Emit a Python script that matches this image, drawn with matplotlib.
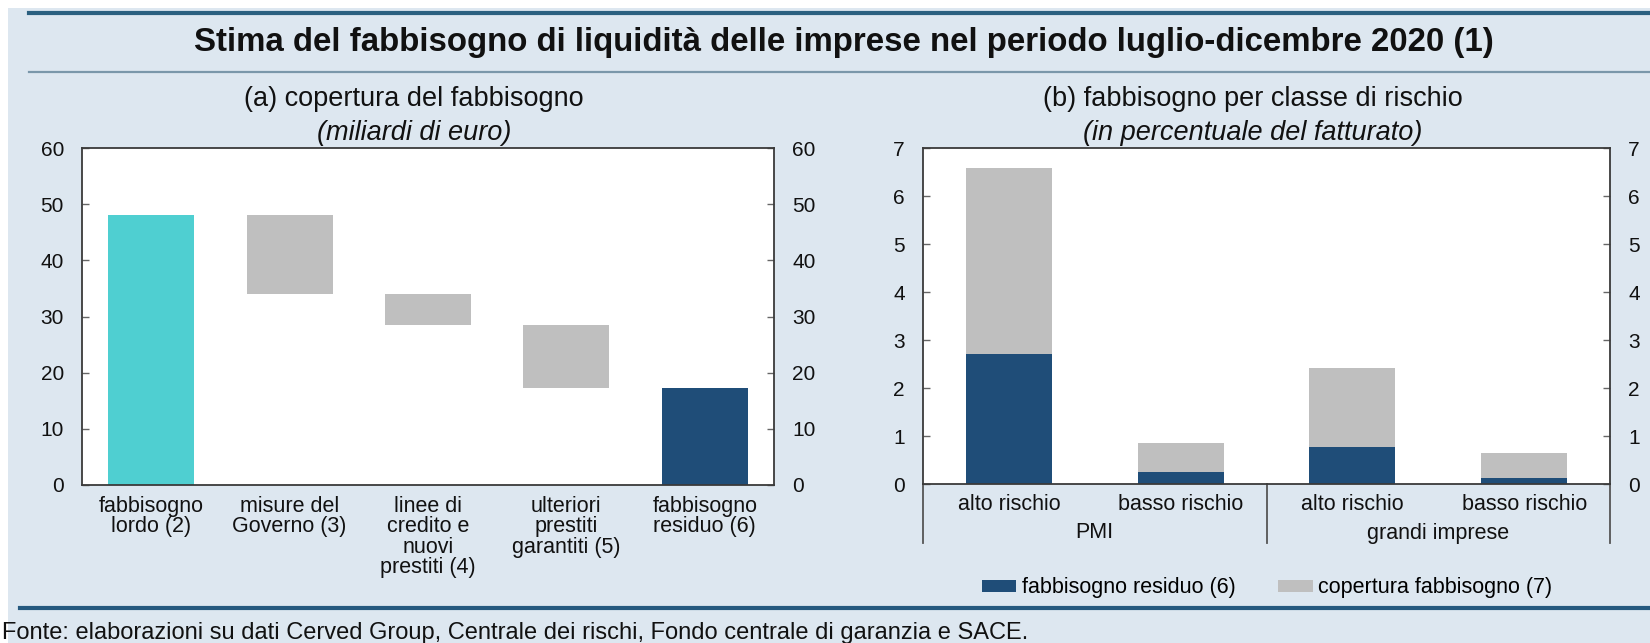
import matplotlib
matplotlib.use("Agg")
import matplotlib.pyplot as plt
from matplotlib.patches import Rectangle, Patch
from matplotlib.lines import Line2D
import matplotlib.transforms as mtransforms
import numpy as np

plt.rcParams['font.family'] = ['Liberation Sans', 'DejaVu Sans']

# ---------------- data ----------------
# panel (a): waterfall, miliardi di euro
cat_a = ["fabbisogno\nlordo (2)", "misure del\nGoverno (3)", "linee di\ncredito e\nnuovi\nprestiti (4)",
         "ulteriori\nprestiti\ngarantiti (5)", "fabbisogno\nresiduo (6)"]
fabbisogno_lordo = 48.0
coperture = [14.0, 5.5, 11.3]          # misure Governo, linee di credito, ulteriori prestiti

# panel (b): percent of turnover
cat_b = ["alto rischio", "basso rischio", "alto rischio", "basso rischio"]
groups_b = ["PMI", "grandi imprese"]
residuo_b = [2.70, 0.25, 0.78, 0.13]
copertura_b = [3.88, 0.61, 1.63, 0.52]

yticks_a = [0, 10, 20, 30, 40, 50, 60]
yticks_b = [0, 1, 2, 3, 4, 5, 6, 7]

title = "Stima del fabbisogno di liquidità delle imprese nel periodo luglio-dicembre 2020 (1)"
sub_a = "(a) copertura del fabbisogno"
sub_a2 = "(miliardi di euro)"
sub_b = "(b) fabbisogno per classe di rischio"
sub_b2 = "(in percentuale del fatturato)"
legend_labels = ["fabbisogno residuo (6)", "copertura fabbisogno (7)"]
source = "Fonte: elaborazioni su dati Cerved Group, Centrale dei rischi, Fondo centrale di garanzia e SACE."

# ---------------- style ----------------
BG = "#dde7f0"
CYAN = "#4fcfd1"
GREY = "#bfbfbf"
DARK = "#1f4d78"
SPINE = "#3a3a3a"
FS = 15.5
FS_SUB = 19.5

W, H = 1650, 643
fig = plt.figure(figsize=(W / 100, H / 100), dpi=100)
fig.patch.set_facecolor("white")

def fx(px):
    return px / W

def fy(py):
    return 1 - py / H

# background panel
fig.add_artist(Rectangle((fx(8), 0), 1 - fx(8), fy(8), transform=fig.transFigure,
                         facecolor=BG, edgecolor="none", zorder=-10))
# decorative lines
fig.add_artist(Line2D([fx(29), 1], [fy(13), fy(13)], transform=fig.transFigure, color="#2b6080", lw=3))
fig.add_artist(Line2D([fx(29), 1], [fy(72), fy(72)], transform=fig.transFigure, color="#7a97aa", lw=1.6))
fig.add_artist(Line2D([fx(20), 1], [fy(608), fy(608)], transform=fig.transFigure, color="#25597f", lw=3))

fig.text(fx(844), fy(42), title, ha="center", va="center", fontsize=23.8, fontweight="bold", color="#111111")

def style_axes(ax):
    ax.set_facecolor("white")
    for s in ax.spines.values():
        s.set_color(SPINE)
        s.set_linewidth(1.3)
    ax.tick_params(axis="y", direction="in", length=5, width=1, color="#666666",
                   labelsize=FS - 0.5, pad=13, left=True, right=True, labelleft=True, labelright=True,
                   labelcolor="#111111")
    ax.tick_params(axis="x", length=0, labelsize=FS, labelcolor="#111111")

# ---------------- panel (a) ----------------
axL = fig.add_axes([fx(82), fy(485), fx(774 - 82), (485 - 148) / H])
style_axes(axL)
xa = np.arange(len(cat_a))
levels = [fabbisogno_lordo]
for c in coperture:
    levels.append(levels[-1] - c)
residuo_a = levels[-1]
heights = [fabbisogno_lordo] + coperture + [residuo_a]
bottoms = [0] + levels[1:] + [0]
colors = [CYAN, GREY, GREY, GREY, DARK]
axL.bar(xa, heights, bottom=bottoms, width=0.62, color=colors, zorder=2)
axL.set_xlim(-0.5, len(cat_a) - 0.5)
axL.set_ylim(0, 60)
axL.set_yticks(yticks_a)
axL.set_xticks(xa)
axL.set_xticklabels(cat_a, linespacing=0.95, va="top")
axL.tick_params(axis="x", pad=8)

trL = mtransforms.blended_transform_factory(axL.transAxes, fig.transFigure)
axL.text(0.48, fy(99), sub_a, transform=trL, ha="center", va="center", fontsize=FS_SUB, color="#111111")
axL.text(0.48, fy(133), sub_a2, transform=trL, ha="center", va="center", fontsize=FS_SUB,
         style="italic", color="#111111")

# ---------------- panel (b) ----------------
axR = fig.add_axes([fx(923), fy(484), fx(1610 - 923), (484 - 148) / H])
style_axes(axR)
xb = np.arange(len(cat_b))
axR.bar(xb, residuo_b, width=0.5, color=DARK, zorder=2, label=legend_labels[0])
axR.bar(xb, copertura_b, bottom=residuo_b, width=0.5, color=GREY, zorder=2, label=legend_labels[1])
axR.set_xlim(-0.5, len(cat_b) - 0.5)
axR.set_ylim(0, 7)
axR.set_yticks(yticks_b)
axR.set_xticks(xb)
axR.set_xticklabels(cat_b)
axR.tick_params(axis="x", pad=7)

tr = mtransforms.blended_transform_factory(axR.transData, axR.transAxes)
ax_h = 484 - 148
for xs in [-0.5, 1.5, 3.5]:
    axR.add_line(Line2D([xs, xs], [0, -(543 - 484) / ax_h], transform=tr, color="#555555",
                        lw=1.3, clip_on=False))
for gi, g in enumerate(groups_b):
    axR.text(0.5 + 2 * gi, -(533 - 484) / ax_h, g, transform=tr, ha="center", va="center",
             fontsize=FS, color="#111111")

trR = mtransforms.blended_transform_factory(axR.transAxes, fig.transFigure)
axR.text(0.48, fy(99), sub_b, transform=trR, ha="center", va="center", fontsize=FS_SUB, color="#111111")
axR.text(0.48, fy(133), sub_b2, transform=trR, ha="center", va="center", fontsize=FS_SUB,
         style="italic", color="#111111")

handles = [Patch(facecolor=DARK, edgecolor="none"), Patch(facecolor=GREY, edgecolor="none")]
fig.legend(handles, legend_labels, loc="center", bbox_to_anchor=(fx(1267), fy(588)), ncol=2,
           frameon=False, fontsize=FS, handlelength=1.6, handleheight=0.45, handletextpad=0.25,
           columnspacing=2.0, borderpad=0)

fig.text(fx(2), fy(633), source, ha="left", va="center", fontsize=17, color="#111111")

fig.savefig("out.png", dpi=100, facecolor=fig.get_facecolor())
